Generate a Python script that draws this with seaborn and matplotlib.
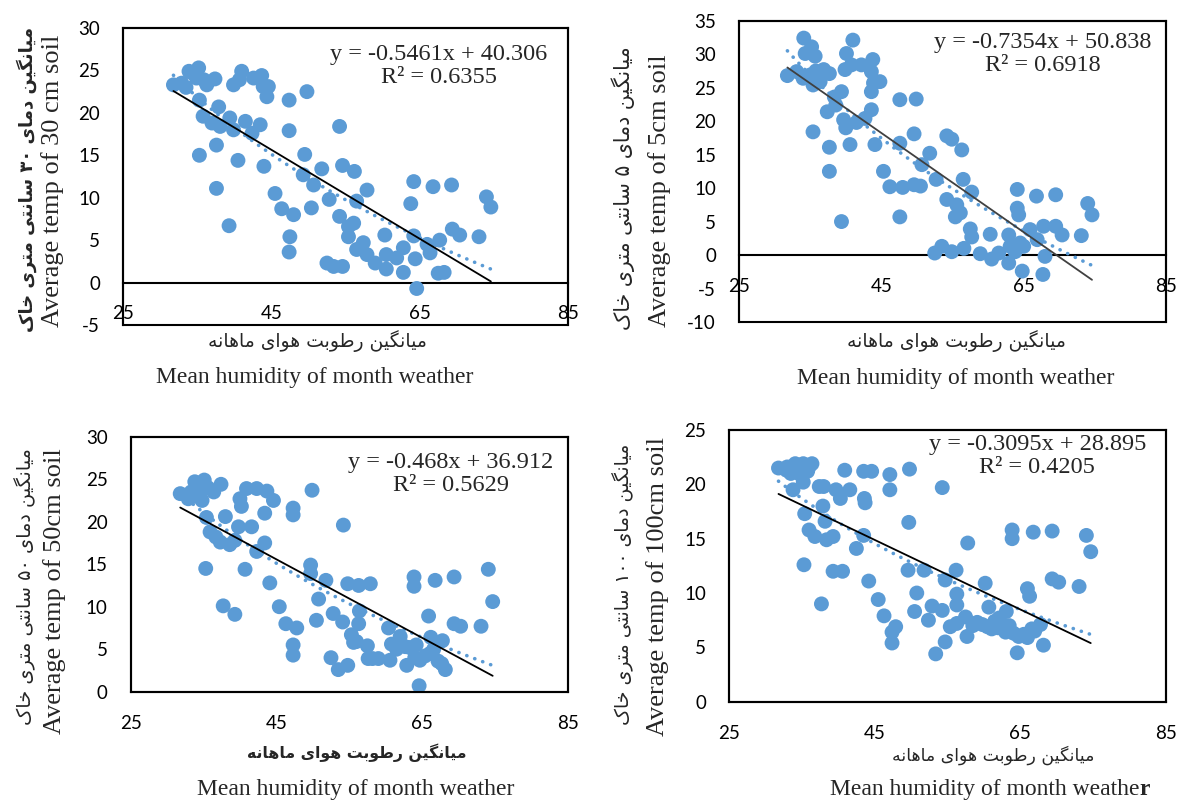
import re
import matplotlib
matplotlib.use("Agg")
import matplotlib.pyplot as plt
from matplotlib.patches import Rectangle
import pandas as pd
import seaborn as sns

sns.set_theme(style="white")
plt.rcParams["font.family"] = ["Lato", "DejaVu Sans"]
plt.rcParams["axes.unicode_minus"] = False

# ---------------- data ----------------
hum_30 = [31.8, 32.9, 33.9, 35.2, 34.9, 36.3, 37.4, 35.3, 35.8, 37.0, 37.9, 38.1, 39.4, 39.9,
          41.5, 43.5, 42.4, 37.6, 35.3, 40.5, 37.6, 39.3, 44.0, 45.5, 46.4, 48.0, 47.5, 47.4,
          47.4, 47.4, 39.9, 40.7, 41.0, 42.6, 43.7, 43.9, 44.6, 44.4, 33.5, 34.3, 35.9,
          49.8, 54.2, 49.5, 49.3, 50.7, 51.8, 50.4, 52.8, 54.2, 54.6, 56.2, 56.5, 57.9, 55.4,
          56.1, 55.4, 52.5, 53.4, 54.6, 56.5, 57.4, 57.9, 59.0, 60.3, 60.5, 60.5, 61.9, 62.8,
          62.8, 64.2, 63.8, 64.2, 64.4, 64.6, 66.0, 66.4, 66.8, 67.7, 67.5, 68.3, 69.3, 69.4,
          70.4, 73.0, 74.0, 74.6]
temp_30 = [23.3, 23.5, 24.9, 25.3, 24.1, 23.3, 24.0, 21.5, 19.6, 18.8, 20.7, 18.4, 19.4, 18.0,
           19.0, 18.6, 17.6, 16.2, 15.0, 14.4, 11.1, 6.7, 13.7, 10.5, 8.7, 8.0, 5.4, 3.6,
           17.9, 21.5, 23.3, 23.9, 24.9, 24.1, 24.4, 23.1, 23.1, 21.9, 23.0, 24.7, 23.9,
           22.5, 18.4, 15.1, 12.7, 11.5, 13.4, 8.8, 9.8, 7.8, 13.8, 13.1, 9.6, 10.9, 6.6,
           7.0, 5.4, 2.3, 1.9, 1.9, 3.9, 4.7, 3.3, 2.3, 5.6, 3.3, 1.6, 2.9, 4.1,
           1.2, 11.9, 9.3, 5.5, 2.8, -0.7, 4.5, 3.5, 11.3, 5.0, 1.1, 1.2, 11.5, 6.3,
           5.6, 5.4, 10.1, 8.9]

hum_5 = [31.8, 33.1, 34.1, 34.3, 35.2, 35.7, 34.0, 35.0, 35.4, 36.4, 36.9, 37.7, 37.4, 38.6,
         38.4, 39.4, 39.7, 40.0, 41.5, 42.7, 43.6, 43.6, 43.9, 44.8, 43.6, 43.8, 42.2, 40.8,
         39.9, 40.1, 41.0, 35.4, 37.7, 37.7, 40.6, 39.4, 44.1, 45.3, 46.2, 35.8, 36.0,
         47.6, 49.9, 49.6, 47.6, 48.0, 49.6, 50.5, 47.6, 50.7, 51.8, 52.7, 54.2, 54.9, 56.3,
         56.5, 57.7, 54.2, 55.6, 56.1, 55.4, 57.5, 57.7, 52.5, 53.5, 54.9, 56.6, 58.9, 60.3,
         60.5, 61.5, 62.9, 62.9, 63.1, 64.1, 64.1, 64.3, 64.5, 64.8, 65.9, 66.8, 66.9, 67.8,
         68.0, 67.7, 69.5, 69.5, 70.4, 73.1, 74.0, 74.6, 63.8, 65.0]
temp_5 = [26.8, 27.4, 32.4, 30.1, 31.1, 29.7, 26.4, 26.9, 25.4, 25.9, 27.7, 27.1, 21.4, 22.4,
          23.6, 24.4, 20.2, 19.0, 19.8, 20.4, 21.7, 24.4, 25.7, 25.9, 27.4, 29.2, 28.4, 28.4,
          27.7, 30.1, 32.1, 18.4, 16.1, 12.5, 16.5, 5.0, 16.5, 12.5, 10.2, 27.5, 26.0,
          23.2, 23.3, 18.1, 16.7, 10.1, 10.5, 10.3, 5.7, 13.5, 15.2, 11.3, 17.8, 17.3, 15.7,
          11.3, 9.4, 8.3, 7.5, 6.3, 5.7, 3.9, 2.7, 0.3, 1.3, 0.5, 1.0, 0.2, 3.1,
          -0.6, 0.3, -1.2, 3.0, 1.3, 9.8, 7.0, 6.0, 1.8, -2.4, 3.8, 8.8, 2.3, 4.3,
          -0.2, -2.9, 9.0, 4.3, 3.0, 2.9, 7.7, 6.0, 0.5, 1.3]

hum_50 = [31.8, 32.9, 33.8, 35.1, 34.5, 34.8, 36.4, 37.4, 35.4, 35.9, 36.7, 37.3, 38.0, 38.6,
          39.3, 39.8, 41.6, 40.0, 40.2, 40.9, 42.3, 43.7, 44.6, 43.4, 43.4, 42.3, 35.3, 40.7,
          44.1, 37.7, 39.3, 45.4, 46.3, 47.8, 47.3, 47.3, 47.3, 47.3, 33.3, 34.0, 35.6,
          49.9, 54.2, 49.7, 49.7, 51.8, 50.8, 50.5, 52.8, 54.1, 54.8, 56.3, 57.9, 56.4, 56.3,
          55.3, 55.6, 57.5, 52.5, 53.5, 54.8, 57.6, 59.0, 60.4, 60.6, 60.8, 62.0, 62.7, 64.2,
          62.9, 63.9, 63.9, 64.6, 64.7, 65.9, 66.2, 66.1, 66.8, 67.8, 67.7, 68.2, 69.4, 69.4,
          70.3, 73.1, 74.1, 74.7, 56.0, 58.2, 61.5, 63.3, 64.0, 65.4, 66.6, 67.2]
temp_50 = [23.3, 22.7, 24.7, 24.9, 23.7, 22.5, 23.5, 24.4, 20.5, 18.8, 18.2, 17.6, 20.6, 17.3,
           17.8, 19.4, 19.4, 22.7, 21.8, 23.9, 23.9, 23.6, 22.5, 21.0, 17.5, 16.5, 14.5, 14.4,
           12.8, 10.1, 9.1, 10.0, 8.0, 7.5, 5.5, 4.3, 21.6, 20.8, 23.5, 23.0, 24.0,
           23.7, 19.6, 14.9, 13.9, 13.1, 10.9, 8.4, 9.2, 8.2, 12.7, 12.5, 12.7, 9.5, 8.0,
           6.7, 5.8, 5.4, 4.0, 2.6, 3.1, 3.9, 3.9, 7.5, 3.7, 5.6, 6.5, 5.3, 5.5,
           3.1, 13.5, 12.4, 0.7, 3.7, 8.9, 6.4, 4.5, 13.1, 6.0, 3.3, 2.6, 13.5, 8.0,
           7.7, 7.7, 14.4, 10.6, 5.9, 3.9, 5.0, 5.2, 4.0, 4.2, 5.0, 3.6]

hum_100 = [31.8, 32.9, 34.1, 35.2, 36.4, 34.8, 33.8, 35.2, 37.4, 38.0, 39.7, 40.3, 40.9, 41.6,
           43.6, 43.7, 43.5, 44.6, 37.9, 35.4, 38.2, 36.0, 36.8, 38.4, 39.3, 43.5, 42.5, 35.3,
           39.3, 40.6, 44.2, 37.7, 45.5, 46.3, 47.4, 47.4, 47.1, 47.1, 33.5, 35.8,
           33.0, 34.5, 36.0, 35.0,
           49.8, 49.7, 54.3, 49.6, 51.8, 50.8, 50.5, 47.9, 52.4, 52.9, 54.3, 54.7, 56.2, 56.3,
           56.3, 53.4, 54.7, 55.4, 56.3, 57.5, 57.7, 57.8, 59.1, 60.2, 60.7, 60.5, 61.1, 62.1,
           62.5, 63.1, 63.0, 63.9, 63.9, 64.1, 64.6, 66.0, 66.0, 66.3, 66.6, 66.8, 67.8, 68.2,
           69.4, 69.4, 70.3, 73.1, 74.1, 74.7,
           58.5, 61.5, 63.5, 64.8, 65.5, 67.0, 62.0, 59.8]
temp_100 = [21.5, 21.3, 21.9, 21.9, 21.9, 20.9, 19.5, 20.2, 19.8, 19.8, 19.5, 18.7, 21.3, 19.5,
            18.7, 18.3, 21.2, 21.2, 18.0, 17.3, 16.6, 15.8, 15.2, 14.9, 15.2, 15.3, 14.1, 12.6,
            12.0, 12.0, 11.1, 9.0, 9.4, 7.9, 6.4, 5.4, 20.9, 19.5, 21.0, 21.2,
            21.6, 21.5, 21.6, 21.0,
            21.4, 16.5, 19.7, 12.1, 12.1, 10.0, 8.3, 6.9, 7.5, 8.8, 8.4, 11.2, 12.1, 9.9,
            8.9, 4.4, 5.5, 6.9, 7.2, 7.8, 6.0, 14.6, 7.3, 10.9, 8.7, 6.9, 6.7, 7.7,
            7.1, 8.3, 6.4, 15.8, 15.0, 6.3, 4.5, 5.9, 10.4, 9.7, 6.7, 15.6, 7.1, 5.2,
            15.7, 11.3, 11.0, 10.6, 15.3, 13.8,
            7.0, 7.4, 7.0, 6.0, 6.2, 6.5, 6.8, 7.1]

x_ticks = [25, 45, 65, 85]
y_ticks_30 = [-5, 0, 5, 10, 15, 20, 25, 30]
y_ticks_5 = [-10, -5, 0, 5, 10, 15, 20, 25, 30, 35]
y_ticks_50 = [0, 5, 10, 15, 20, 25, 30]
y_ticks_100 = [0, 5, 10, 15, 20, 25]

eq_texts = ["y = -0.5461x + 40.306", "y = -0.7354x + 50.838",
            "y = -0.468x + 36.912", "y = -0.3095x + 28.895"]
r2_texts = ["R² = 0.6355", "R² = 0.6918", "R² = 0.5629", "R² = 0.4205"]
ylab_en = ["Average temp of 30 cm soil", "Average temp of 5cm soil",
           "Average temp of 50cm soil", "Average temp of 100cm soil"]
ylab_fa = ["میانگین دمای ۳۰ سانتی متری خاک", "میانگین دمای ۵ سانتی متری خاک",
           "میانگین دمای ۵۰ سانتی متری خاک", "میانگین دمای ۱۰۰ سانتی متری خاک"]
xlab_fa = "میانگین رطوبت هوای ماهانه"
xlab_en = "Mean humidity of month weather"

# ---------------- minimal Persian shaping (matplotlib has no shaper) ----------------
AR_FORMS = {
    "\u0627": ("\uFE8D", "\uFE8E", None, None),
    "\u0628": ("\uFE8F", "\uFE90", "\uFE91", "\uFE92"),
    "\u062A": ("\uFE95", "\uFE96", "\uFE97", "\uFE98"),
    "\u062E": ("\uFEA5", "\uFEA6", "\uFEA7", "\uFEA8"),
    "\u062F": ("\uFEA9", "\uFEAA", None, None),
    "\u0631": ("\uFEAD", "\uFEAE", None, None),
    "\u0633": ("\uFEB1", "\uFEB2", "\uFEB3", "\uFEB4"),
    "\u0637": ("\uFEC1", "\uFEC2", "\uFEC3", "\uFEC4"),
    "\u0645": ("\uFEE1", "\uFEE2", "\uFEE3", "\uFEE4"),
    "\u0646": ("\uFEE5", "\uFEE6", "\uFEE7", "\uFEE8"),
    "\u0647": ("\uFEE9", "\uFEEA", "\uFEEB", "\uFEEC"),
    "\u0648": ("\uFEED", "\uFEEE", None, None),
    "\u06A9": ("\uFB8E", "\uFB8F", "\uFB90", "\uFB91"),
    "\u06AF": ("\uFB92", "\uFB93", "\uFB94", "\uFB95"),
    "\u06CC": ("\uFBFC", "\uFBFD", "\uFBFE", "\uFBFF"),
}


def shape_fa(text):
    text = text.replace("\u064A", "\u06CC").replace("\u0643", "\u06A9")
    chars = list(text)
    dual = {c for c, f in AR_FORMS.items() if f[2] is not None}
    out = []
    for i, c in enumerate(chars):
        if c not in AR_FORMS:
            out.append(c)
            continue
        prev = chars[i - 1] if i > 0 else None
        nxt = chars[i + 1] if i + 1 < len(chars) else None
        jp = prev in dual
        jn = c in dual and nxt in AR_FORMS
        iso, fin, ini, med = AR_FORMS[c]
        out.append(med if (jp and jn) else fin if jp else ini if jn else iso)
    vis = "".join(out)[::-1]
    return re.sub("[\u06F0-\u06F9]+", lambda m: m.group(0)[::-1], vis)


# ---------------- figure ----------------
W, H = 1177, 802
fig = plt.figure(figsize=(W / 100, H / 100), dpi=100)
fig.patch.set_facecolor("white")


def fx(px):
    return px / W


def fy(py):
    return 1 - py / H


BLUE = "#5B9BD5"
SERIF = ["Liberation Serif", "DejaVu Serif"]
FA = ["DejaVu Sans"]

panels = [
    dict(x=hum_30, y=temp_30, yt=y_ticks_30, box=(123, 28, 568, 325), lc="black",
         eqpos=(0.710, 0.872), yen=(53, 181), yfa=(27, 179), fa_w="bold", fa_s=13.0,
         xfa=(317, 341), xfa_w="normal", xfa_s=13.5, xen=(315, 377), bold_r=False),
    dict(x=hum_5, y=temp_5, yt=y_ticks_5, box=(739, 20.7, 1166, 322), lc="#404040",
         eqpos=(0.712, 0.889), yen=(660, 191), yfa=(623, 188), fa_w="normal", fa_s=14.8,
         xfa=(956, 341), xfa_w="normal", xfa_s=13.5, xen=(956, 378), bold_r=False),
    dict(x=hum_50, y=temp_50, yt=y_ticks_50, box=(130.7, 436.7, 567.7, 691.7), lc="black",
         eqpos=(0.733, 0.854), yen=(55, 591), yfa=(25, 587), fa_w="normal", fa_s=13.9,
         xfa=(357, 753), xfa_w="bold", xfa_s=11.3, xen=(356, 790), bold_r=False),
    dict(x=hum_100, y=temp_100, yt=y_ticks_100, box=(729, 430, 1165.7, 701.7), lc="black",
         eqpos=(0.706, 0.904), yen=(658, 586), yfa=(623, 584), fa_w="normal", fa_s=13.6,
         xfa=(993, 755), xfa_w="normal", xfa_s=12.5, xen=(985, 790), bold_r=True),
]

for i, p in enumerate(panels):
    l, t, r, b = p["box"]
    ax = fig.add_axes([fx(l), fy(b), (r - l) / W, (b - t) / H])
    df = pd.DataFrame({"hum": p["x"], "temp": p["y"]})
    sns.scatterplot(data=df, x="hum", y="temp", ax=ax, s=115, color=BLUE,
                    edgecolor="none", linewidth=0, legend=False, zorder=3)
    # dotted logarithmic trend (y ~ log x)
    sns.regplot(data=df, x="hum", y="temp", ax=ax, logx=True, scatter=False, ci=None,
                line_kws=dict(color=BLUE, lw=2.6, ls=(0, (0.05, 2.3)),
                              dash_capstyle="round", zorder=4))
    # solid linear trend
    sns.regplot(data=df, x="hum", y="temp", ax=ax, order=1, scatter=False, ci=None,
                line_kws=dict(color=p["lc"], lw=1.3, zorder=5))

    ax.set_xlim(x_ticks[0], x_ticks[-1])
    ax.set_ylim(p["yt"][0], p["yt"][-1])
    ax.set_xticks(x_ticks)
    ax.set_yticks(p["yt"])
    ax.set_xlabel("")
    ax.set_ylabel("")
    ax.tick_params(axis="both", length=0, labelsize=13.5, colors="black")
    ax.tick_params(axis="x", pad=16.5)
    ax.tick_params(axis="y", pad=16.5)
    for sp in ax.spines.values():
        sp.set_visible(True)
        sp.set_color("black")
        sp.set_linewidth(1.5)
    ax.spines["bottom"].set_position(("data", 0))
    ax.add_patch(Rectangle((0, 0), 1, 1, transform=ax.transAxes, fill=False,
                           ec="black", lw=1.5, zorder=6, clip_on=False))
    ax.grid(False)
    ax.set_facecolor("white")

    ax.text(p["eqpos"][0], p["eqpos"][1], eq_texts[i] + "\n" + r2_texts[i],
            transform=ax.transAxes, ha="center", va="center", multialignment="center",
            fontsize=17.5, family=SERIF, linespacing=1.15, zorder=7)

    fig.text(fx(p["yen"][0]), fy(p["yen"][1]), ylab_en[i], rotation=90,
             ha="center", va="center", fontsize=19, family=SERIF)
    fig.text(fx(p["yfa"][0]), fy(p["yfa"][1]), shape_fa(ylab_fa[i]), rotation=90,
             ha="center", va="center", fontsize=p["fa_s"], family=FA, fontweight=p["fa_w"])
    fig.text(fx(p["xfa"][0]), fy(p["xfa"][1]), shape_fa(xlab_fa),
             ha="center", va="center", fontsize=p["xfa_s"], family=FA, fontweight=p["xfa_w"])
    if p["bold_r"]:
        # the reference sets the final letter of this label in bold
        t_main = fig.text(fx(p["xen"][0]), fy(p["xen"][1]), xlab_en[:-1],
                          ha="center", va="center", fontsize=17, family=SERIF)
        fig.add_artist(plt.Annotation(xlab_en[-1], xy=(1, 0), xycoords=t_main,
                                      xytext=(0.0, 0.217 * 17), textcoords="offset points",
                                      ha="left", va="baseline", fontsize=17, family=SERIF,
                                      fontweight="bold", annotation_clip=False))
    else:
        fig.text(fx(p["xen"][0]), fy(p["xen"][1]), xlab_en,
                 ha="center", va="center", fontsize=17, family=SERIF)

fig.savefig("out.png", dpi=100, facecolor="white")
